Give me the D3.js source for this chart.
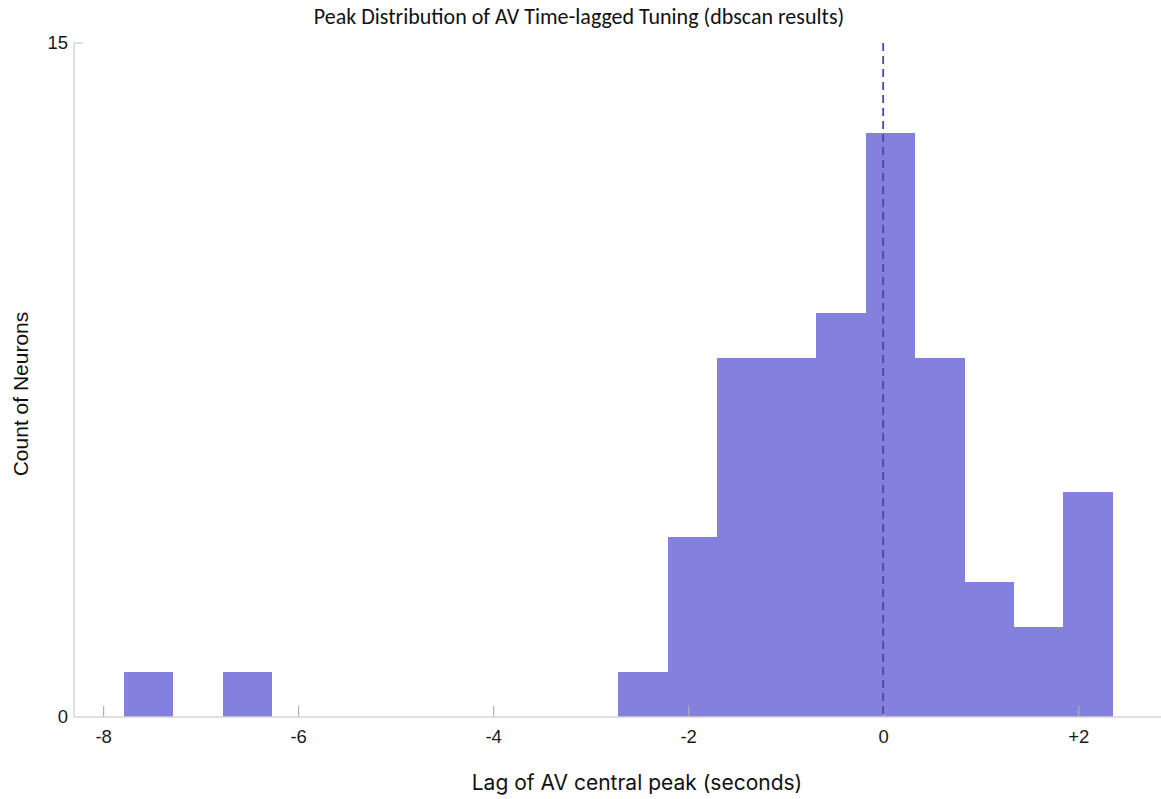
<!DOCTYPE html>
<html>
<head>
<meta charset="utf-8">
<script src="https://cdn.jsdelivr.net/npm/d3@7"></script>
<style>
  html, body { margin: 0; padding: 0; background: #fff; }
  svg { display: block; }
</style>
</head>
<body>
<svg id="chart" width="1161" height="799"></svg>
<script>
// Histogram of peak lags (seconds): first bin edge, bin width and counts per bin
const binStart = -7.786;
const binWidth = 0.5071;
const counts = [1, 0, 1, 0, 0, 0, 0, 0, 0, 0, 1, 4, 8, 8, 9, 13, 8, 3, 2, 5];

// Axis ticks
const xTickValues = [-8, -6, -4, -2, 0, 2];
const xTickLabels = ["-8", "-6", "-4", "-2", "0", "+2"];
const yTickValues = [0, 15];

// Reference line at zero lag
const zeroLag = 0;

const titleText = "Peak Distribution of AV Time-lagged Tuning (dbscan results)";
const xLabelText = "Lag of AV central peak (seconds)";
const yLabelText = "Count of Neurons";

const svg = d3.select("#chart");

const x = d3.scaleLinear().domain([-8, 2]).range([103.1, 1078.2]);
const y = d3.scaleLinear().domain([0, 15]).range([717, 43]);

const axisLeft = 74, axisRight = 1161;
const barColor = "#8481de";
const axisColor = "#d4d4d4";
const tickColor = "#b0b0b0";
const tickFont = "'Liberation Sans', Arial, sans-serif";

const bins = counts.map((c, i) => ({
  x0: binStart + i * binWidth,
  x1: binStart + (i + 1) * binWidth,
  count: c
}));

// Bars (edges snapped to whole pixels so neighbouring bars join without seams)
svg.append("g")
  .attr("shape-rendering", "crispEdges")
  .selectAll("rect")
  .data(bins.filter(d => d.count > 0))
  .join("rect")
  .attr("x", d => Math.round(x(d.x0)))
  .attr("width", d => Math.round(x(d.x1)) - Math.round(x(d.x0)))
  .attr("y", d => Math.round(y(d.count)))
  .attr("height", d => Math.round(y(0)) - Math.round(y(d.count)))
  .attr("fill", barColor);

// X axis: baseline, inward ticks, labels
const xAxis = d3.axisBottom(x)
  .tickValues(xTickValues)
  .tickFormat((d, i) => xTickLabels[i])
  .tickSizeInner(-11)
  .tickSizeOuter(0)
  .tickPadding(13);

const gx = svg.append("g")
  .attr("transform", `translate(0,${y(0)})`)
  .call(xAxis);
gx.select(".domain").remove();
gx.selectAll(".tick line").attr("stroke", tickColor).attr("stroke-width", 1.2);
gx.selectAll(".tick text")
  .attr("fill", "#1a1a1a")
  .style("font-family", tickFont)
  .style("font-size", "18.5px");

svg.append("line")
  .attr("x1", axisLeft).attr("x2", axisRight)
  .attr("y1", y(0)).attr("y2", y(0))
  .attr("stroke", axisColor).attr("stroke-width", 1.5);

// Y axis
const yAxis = d3.axisLeft(y)
  .tickValues(yTickValues)
  .tickSizeInner(0)
  .tickSizeOuter(0)
  .tickPadding(6);

const gy = svg.append("g")
  .attr("transform", `translate(${axisLeft},0)`)
  .call(yAxis);
gy.select(".domain").remove();
gy.selectAll(".tick text")
  .attr("fill", "#1a1a1a")
  .style("font-family", tickFont)
  .style("font-size", "18.5px");

svg.append("line")
  .attr("x1", axisLeft).attr("x2", axisLeft)
  .attr("y1", y(15)).attr("y2", y(0))
  .attr("stroke", axisColor).attr("stroke-width", 1.5);
svg.append("line")
  .attr("x1", axisLeft).attr("x2", axisLeft + 9)
  .attr("y1", y(15)).attr("y2", y(15))
  .attr("stroke", axisColor).attr("stroke-width", 1.5);

// Dashed zero-lag line
svg.append("line")
  .attr("x1", x(zeroLag)).attr("x2", x(zeroLag))
  .attr("y1", y(15)).attr("y2", y(0))
  .attr("stroke", "#4f44a6")
  .attr("stroke-width", 1.8)
  .attr("stroke-dasharray", "8,5");

// Title and axis labels
svg.append("text")
  .attr("x", 579).attr("y", 24)
  .attr("text-anchor", "middle")
  .attr("fill", "#111")
  .style("font-family", "Carlito, 'Open Sans', sans-serif")
  .style("font-size", "22px")
  .text(titleText);

svg.append("text")
  .attr("x", 637).attr("y", 790)
  .attr("text-anchor", "middle")
  .attr("fill", "#111")
  .style("font-family", "Inter, 'Noto Sans', sans-serif")
  .style("font-size", "21px")
  .text(xLabelText);

svg.append("text")
  .attr("transform", "translate(28,394) rotate(-90)")
  .attr("text-anchor", "middle")
  .attr("fill", "#111")
  .style("font-family", "'Liberation Sans', Arial, sans-serif")
  .style("font-size", "21px")
  .text(yLabelText);
</script>
</body>
</html>
